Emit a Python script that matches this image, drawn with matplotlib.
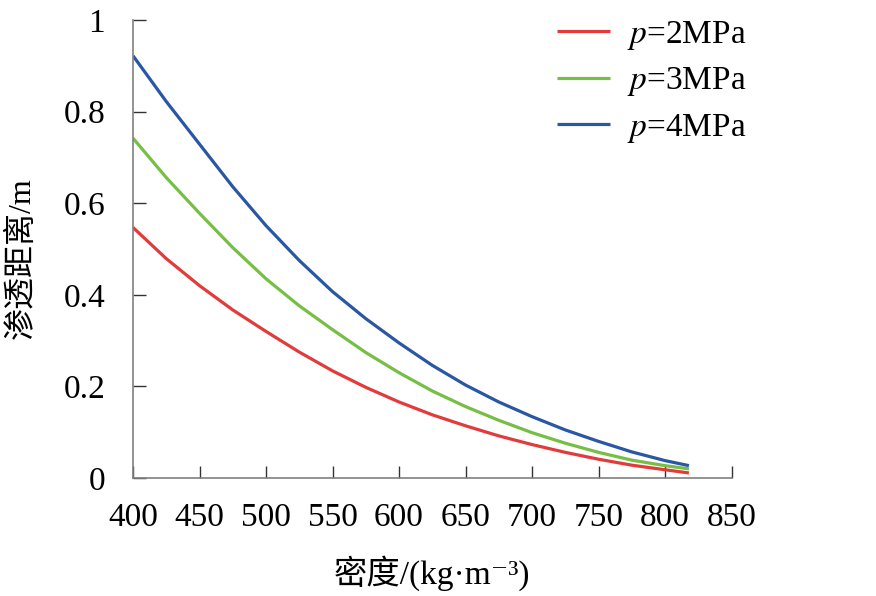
import matplotlib
matplotlib.use('Agg')
import matplotlib.pyplot as plt
import numpy as np

# 密度 (kg/m3)
density = [400, 425, 450, 475, 500, 525, 550, 575, 600, 625, 650, 675, 700, 725, 750, 775, 800, 818]
# 渗透距离 (m)
dist_2mpa = [0.547, 0.479, 0.420, 0.367, 0.320, 0.275, 0.234, 0.198, 0.166, 0.138, 0.114, 0.092,
             0.073, 0.056, 0.041, 0.028, 0.018, 0.011]
dist_3mpa = [0.742, 0.656, 0.578, 0.503, 0.435, 0.376, 0.324, 0.274, 0.230, 0.190, 0.156, 0.126,
             0.099, 0.076, 0.056, 0.039, 0.027, 0.020]
dist_4mpa = [0.922, 0.822, 0.729, 0.636, 0.551, 0.475, 0.407, 0.348, 0.295, 0.246, 0.203, 0.166,
             0.134, 0.105, 0.080, 0.057, 0.038, 0.027]
labels = ['$p$=2MPa', '$p$=3MPa', '$p$=4MPa']
colors = ['#E23B3B', '#77BE45', '#2A57A3']

plt.rcParams['font.family'] = ['Liberation Serif', 'DejaVu Serif', 'Noto Sans CJK SC']
plt.rcParams['mathtext.fontset'] = 'stix'
plt.rcParams['font.size'] = 24

fig = plt.figure(figsize=(8.76, 5.96), dpi=100)
ax = fig.add_axes([133/876, 1 - 478/596, (731.5 - 133)/876, (478 - 20)/596])

for y, lab, c in zip([dist_2mpa, dist_3mpa, dist_4mpa], labels, colors):
    ax.plot(density, y, color=c, lw=2.3, label=lab, solid_capstyle='butt')

ax.set_xlim(400, 850)
ax.set_ylim(0, 1)
ax.set_xticks(np.arange(400, 851, 50))
ax.set_yticks([0, 0.2, 0.4, 0.6, 0.8, 1])
ax.set_yticklabels(['0', '0.2', '0.4', '0.6', '0.8', '1'])

for s in ['top', 'right']:
    ax.spines[s].set_visible(False)
for s in ['left', 'bottom']:
    ax.spines[s].set_color('#808080')
    ax.spines[s].set_linewidth(1.2)

ax.tick_params(axis='both', direction='in', length=9, width=1, color='#333333', labelsize=24)
ax.tick_params(axis='x', pad=18)
ax.tick_params(axis='y', pad=20)

ax.set_xlabel('密度/(kg·m⁻³)', fontsize=24, labelpad=16)
ax.set_ylabel('渗透距离/m', fontsize=23, labelpad=17)
ax.yaxis.set_label_coords(-0.16, 0.48)

ax.legend(loc='upper left', bbox_to_anchor=(557/876, 1 - 19/596), bbox_transform=fig.transFigure,
          frameon=False, borderpad=0, borderaxespad=0, handlelength=1.6, handletextpad=0.5,
          labelspacing=0.4, fontsize=24)

plt.savefig('out.png', dpi=100)
